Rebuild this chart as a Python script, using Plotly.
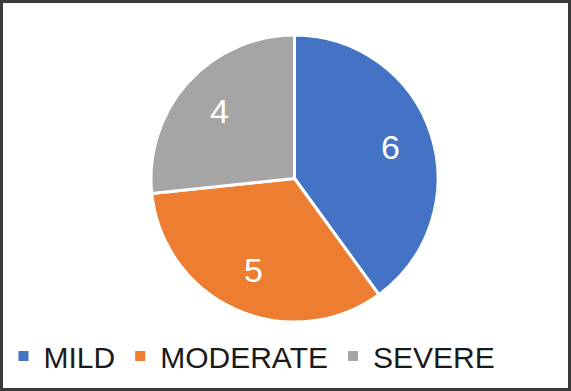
import math
import plotly.graph_objects as go

labels = ["MILD", "MODERATE", "SEVERE"]
values = [6, 5, 4]
colors = ["#4472C4", "#ED7D31", "#A5A5A5"]

W, H = 571, 391
# pie placement (pixels)
left, right, top, bottom = 151, 438, 35, 322
cx_px, cy_px = (left + right) / 2, (top + bottom) / 2
r_px = (right - left) / 2

fig = go.Figure(go.Pie(
    labels=labels,
    values=values,
    sort=False,
    direction="clockwise",
    rotation=0,
    marker=dict(colors=colors, line=dict(color="white", width=3)),
    textinfo="none",
    domain=dict(x=[left / W, right / W], y=[(H - bottom) / H, (H - top) / H]),
))

# data labels placed at the middle angle of each slice (clockwise from 12 o'clock)
total = sum(values)
annotations = []
cum = 0
for v in values:
    mid = (cum + v / 2) / total * 2 * math.pi
    cum += v
    rr = 0.70 * r_px
    annotations.append(dict(
        x=(cx_px + rr * math.sin(mid)) / W,
        y=(H - cy_px + rr * math.cos(mid)) / H,
        xref="paper", yref="paper", xanchor="center", yanchor="middle",
        text=str(v), showarrow=False,
        font=dict(color="white", size=34, family="Liberation Sans, Arial"),
    ))

fig.update_layout(
    width=W, height=H,
    margin=dict(l=0, r=0, t=0, b=0),
    paper_bgcolor="white",
    font=dict(family="Liberation Sans, Arial", color="#222222"),
    legend=dict(orientation="h", x=252 / W, xanchor="center", y=(H - 356) / H, yanchor="middle",
                bgcolor="rgba(0,0,0,0)",
                font=dict(size=30, color="#1a1a1a"), itemsizing="constant"),
    annotations=annotations,
    shapes=[dict(type="rect", xref="paper", yref="paper", layer="above",
                 x0=1.5 / W, y0=1.5 / H, x1=1 - 1.5 / W, y1=1 - 1.5 / H,
                 line=dict(color="#3a3a3a", width=3))],
)

fig.write_html("out.html", config={"displayModeBar": False},
               post_script="document.body.style.margin='0';document.body.style.padding='0';")
